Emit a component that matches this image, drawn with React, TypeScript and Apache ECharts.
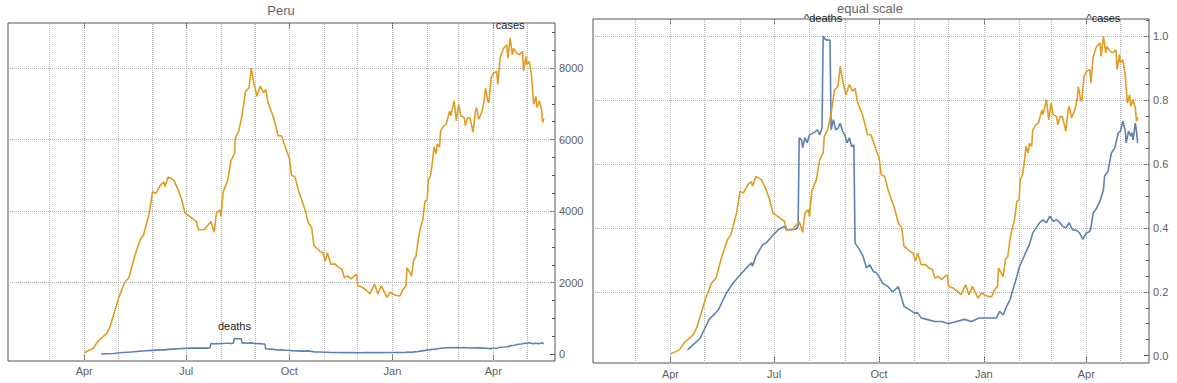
import React, { useEffect, useRef } from 'react';
import * as echarts from 'echarts';

// ---- data (days counted from 2020-04-01) ----
const caseDay = [0, 8, 12, 20, 23, 27, 31, 36, 40, 45, 50, 53, 58, 61, 64, 68, 71, 72, 75, 80, 84, 87, 90, 96, 100, 102, 107, 113, 116, 118, 121, 122, 124, 128, 131, 134, 135, 138, 141, 144, 147, 149, 151, 154, 157, 160, 162, 164, 169, 173, 176, 181, 183, 185, 188, 191, 194, 197, 200, 203, 205, 207, 210, 213, 215, 217, 220, 224, 227, 230, 232, 235, 238, 241, 243, 244, 248, 252, 255, 259, 262, 265, 270, 273, 276, 279, 282, 284, 287, 288, 292, 294, 296, 298, 300, 302, 304, 306, 307, 309, 311, 312, 314, 315, 317, 318, 321, 323, 326, 327, 330, 332, 334, 336, 339, 340, 342, 344, 347, 349, 350, 352, 355, 357, 358, 360, 361, 363, 365, 368, 369, 371, 374, 377, 378, 380, 382, 383, 386, 388, 391, 392, 394, 395, 397, 399, 400, 401, 403, 404, 406, 408, 409, 410];
const cases = [44, 168, 354, 583, 769, 1185, 1591, 2007, 2148, 2740, 3209, 3342, 3943, 4544, 4500, 4729, 4818, 4685, 4959, 4862, 4588, 4314, 3943, 3810, 3713, 3483, 3483, 3713, 3412, 3943, 4040, 3854, 4544, 4862, 5419, 5605, 6064, 6250, 6710, 7355, 7443, 8000, 7629, 7213, 7496, 7311, 7399, 7028, 6612, 6108, 6108, 5649, 5480, 5003, 4959, 4588, 4314, 4040, 3669, 3527, 3023, 2979, 2882, 2838, 2608, 2838, 2519, 2519, 2422, 2378, 2148, 2192, 2104, 2192, 2237, 1918, 1874, 1777, 1688, 1962, 1688, 1918, 1591, 1733, 1680, 1635, 1635, 1800, 1918, 2422, 2192, 2652, 2740, 3209, 3527, 3757, 4270, 4314, 4862, 5003, 5463, 5790, 5605, 5879, 5790, 6250, 6391, 6436, 6798, 6665, 7081, 6524, 6984, 6665, 6612, 6391, 6612, 6612, 6206, 6798, 6895, 6568, 6798, 7125, 7443, 7081, 7028, 7726, 7859, 7912, 7541, 8274, 8548, 8646, 8274, 8840, 8371, 8548, 8416, 8371, 8460, 7912, 8327, 8097, 8186, 7815, 7399, 6984, 7213, 6895, 7081, 6851, 6480, 6586];

const deathDay = [15, 26, 34, 42, 49, 55, 61, 68, 71, 72, 75, 81, 84, 90, 95, 100, 102, 110, 112, 113, 115, 116, 118, 120, 122, 126, 129, 131, 133, 134, 136, 140, 141, 143, 145, 147, 149, 151, 153, 155, 157, 159, 161, 162, 166, 169, 172, 175, 178, 181, 184, 186, 191, 195, 200, 202, 205, 210, 214, 217, 220, 225, 232, 238, 244, 251, 258, 264, 271, 277, 283, 286, 289, 292, 295, 298, 300, 304, 306, 309, 312, 315, 318, 321, 324, 327, 330, 333, 336, 339, 342, 344, 347, 350, 353, 356, 359, 362, 365, 368, 369, 371, 374, 377, 380, 381, 384, 387, 390, 393, 395, 397, 399, 400, 402, 404, 405, 406, 408, 409, 410];
const deaths = [8, 24, 50, 63, 86, 100, 111, 123, 128, 123, 137, 153, 155, 166, 174, 178, 173, 174, 178, 300, 297, 286, 300, 293, 304, 307, 311, 304, 313, 440, 435, 434, 311, 325, 311, 313, 320, 309, 304, 293, 300, 288, 290, 155, 146, 137, 121, 125, 116, 114, 106, 100, 95, 88, 95, 84, 68, 63, 59, 59, 52, 50, 47, 47, 44, 47, 50, 47, 52, 52, 52, 52, 61, 56, 68, 77, 88, 109, 121, 132, 143, 153, 169, 176, 183, 187, 183, 192, 185, 187, 183, 178, 176, 183, 173, 173, 169, 160, 169, 171, 176, 196, 203, 213, 228, 247, 254, 279, 286, 307, 309, 323, 311, 293, 309, 302, 307, 297, 320, 309, 293];

// ---- axes ----
const quarterTicks = ['2020-04-01', '2020-07-01', '2020-10-01', '2021-01-01', '2021-04-01'];
const gridMonths = ['2020-03-01', '2020-04-01', '2020-05-01', '2020-06-01', '2020-07-01', '2020-08-01', '2020-09-01', '2020-10-01', '2020-11-01', '2020-12-01', '2021-01-01', '2021-02-01', '2021-03-01', '2021-04-01', '2021-05-01'];
const leftYLabels = [0, 2000, 4000, 6000, 8000];
const leftYMinor = [0, 500, 1000, 1500, 2000, 2500, 3000, 3500, 4000, 4500, 5000, 5500, 6000, 6500, 7000, 7500, 8000, 8500, 9000];
const rightYLabels = [0, 0.2, 0.4, 0.6, 0.8, 1.0];
const rightYMinor = [0, 0.05, 0.1, 0.15, 0.2, 0.25, 0.3, 0.35, 0.4, 0.45, 0.5, 0.55, 0.6, 0.65, 0.7, 0.75, 0.8, 0.85, 0.9, 0.95, 1.0, 1.05];
const MONTHS = ['Jan', 'Feb', 'Mar', 'Apr', 'May', 'Jun', 'Jul', 'Aug', 'Sep', 'Oct', 'Nov', 'Dec'];

const DAY0 = Date.UTC(2020, 3, 1);
const toDay = (s: string) => Math.round((Date.parse(s) - DAY0) / 86400000);
const dayLabel = (d: number) => MONTHS[new Date(DAY0 + d * 86400000).getUTCMonth()];

const FONT = "'Liberation Sans', Arial, sans-serif";
const FRAME = '#555555';
const TICK_TEXT = '#606060';
const GRID_LINE = '#b3b3b3';
const BLUE = '#5E81B5';
const ORANGE = '#E19C24';

const X_RANGE = [-68, 420];
const LEFT_Y = [-187, 9259];
const RIGHT_Y = [-0.0228, 1.0532];

function buildOption() {
  const qDays = quarterTicks.map(toDay);
  const gDays = gridMonths.map(toDay);
  const caseMax = Math.max(...cases);
  const deathMax = Math.max(...deaths);
  const casePeakDay = caseDay[cases.indexOf(caseMax)];
  const deathPeakDay = deathDay[deaths.indexOf(deathMax)];

  const casePairs = caseDay.map((d, i) => [d, cases[i]]);
  const deathPairs = deathDay.map((d, i) => [d, deaths[i]]);
  const casePairsN = caseDay.map((d, i) => [d, cases[i] / caseMax]);
  const deathPairsN = deathDay.map((d, i) => [d, deaths[i] / deathMax]);

  const xAxisFor = (gridIndex: number, position: 'top' | 'bottom', margin: number) => ({
    type: 'value',
    gridIndex,
    position,
    min: X_RANGE[0],
    max: X_RANGE[1],
    axisLine: { show: false, onZero: false },
    axisTick: { show: true, inside: true, length: 6, customValues: qDays, lineStyle: { color: FRAME, width: 1 } },
    axisLabel: {
      show: position === 'bottom',
      customValues: qDays,
      formatter: (v: number) => dayLabel(v),
      margin,
      color: TICK_TEXT,
      fontSize: 11,
      fontFamily: FONT,
    },
    splitLine: { show: false },
  });

  const yAxisFor = (gridIndex: number, range: number[], ticks: number[], length: number, labels: number[] | null, fmt: (v: number) => string) => ({
    type: 'value',
    gridIndex,
    position: 'right',
    min: range[0],
    max: range[1],
    axisLine: { show: false, onZero: false },
    axisTick: { show: true, inside: true, length, customValues: ticks, lineStyle: { color: FRAME, width: 1 } },
    axisLabel: labels
      ? { show: true, customValues: labels, formatter: fmt, margin: 4, color: TICK_TEXT, fontSize: 11, fontFamily: FONT }
      : { show: false },
    splitLine: { show: false },
  });

  const gridMark = (hValues: number[]) => ({
    z: 1,
    silent: true,
    symbol: ['none', 'none'],
    label: { show: false },
    lineStyle: { type: 'dotted', color: GRID_LINE, width: 1 },
    emphasis: { disabled: true },
    data: [...gDays.map((d) => ({ xAxis: d })), ...hValues.map((v) => ({ yAxis: v }))],
  });

  const peakLabel = (text: string, x: number, y: number, distance: number) => ({
    silent: true,
    symbol: 'circle',
    symbolSize: 1,
    itemStyle: { color: 'rgba(0,0,0,0)' },
    label: { show: true, position: 'top', distance, formatter: text, color: '#1a1a1a', fontSize: 11, fontFamily: FONT },
    data: [{ coord: [x, y] }],
  });

  const lineBase = { type: 'line', symbol: 'none', showSymbol: false, smooth: false, silent: true };

  return {
    animation: false,
    grid: [
      { left: 8, top: 23, width: 547, height: 338, show: true, borderColor: FRAME, borderWidth: 1, backgroundColor: 'transparent', containLabel: false },
      { left: 593, top: 19, width: 556, height: 344, show: true, borderColor: FRAME, borderWidth: 1, backgroundColor: 'transparent', containLabel: false },
    ],
    xAxis: [xAxisFor(0, 'bottom', 4), xAxisFor(0, 'top', 4), xAxisFor(1, 'bottom', 5), xAxisFor(1, 'top', 5)],
    yAxis: [
      yAxisFor(0, LEFT_Y, leftYMinor, 3, leftYLabels, (v) => String(v)),
      yAxisFor(0, LEFT_Y, leftYLabels, 5, null, (v) => String(v)),
      yAxisFor(1, RIGHT_Y, rightYMinor, 3, rightYLabels, (v) => v.toFixed(1)),
      yAxisFor(1, RIGHT_Y, rightYLabels, 5, null, (v) => v.toFixed(1)),
    ],
    graphic: [
      { type: 'text', x: 281, y: 10, silent: true, style: { text: 'Peru', fill: '#666666', font: `13px ${FONT}`, align: 'center', verticalAlign: 'middle' } },
      { type: 'text', x: 870, y: 8, silent: true, style: { text: 'equal scale', fill: '#666666', font: `13px ${FONT}`, align: 'center', verticalAlign: 'middle' } },
    ],
    series: [
      {
        ...lineBase,
        name: 'deaths',
        xAxisIndex: 0,
        yAxisIndex: 0,
        z: 2,
        data: deathPairs,
        lineStyle: { color: BLUE, width: 1.6 },
        itemStyle: { color: BLUE },
        markLine: gridMark([2000, 4000, 6000, 8000]),
        markPoint: peakLabel('deaths', deathPeakDay, deathMax, 7),
      },
      {
        ...lineBase,
        name: 'cases',
        xAxisIndex: 0,
        yAxisIndex: 0,
        z: 3,
        data: casePairs,
        lineStyle: { color: ORANGE, width: 1.6 },
        itemStyle: { color: ORANGE },
        markPoint: peakLabel('cases', casePeakDay, caseMax, 7),
      },
      {
        ...lineBase,
        name: 'deaths (scaled)',
        xAxisIndex: 2,
        yAxisIndex: 2,
        z: 2,
        data: deathPairsN,
        lineStyle: { color: BLUE, width: 1.6 },
        itemStyle: { color: BLUE },
        markLine: gridMark([0.2, 0.4, 0.6, 0.8, 1.0]),
        markPoint: peakLabel('^deaths', deathPeakDay, 1, 12),
      },
      {
        ...lineBase,
        name: 'cases (scaled)',
        xAxisIndex: 2,
        yAxisIndex: 2,
        z: 3,
        data: casePairsN,
        lineStyle: { color: ORANGE, width: 1.6 },
        itemStyle: { color: ORANGE },
        markPoint: peakLabel('^cases', casePeakDay, 1, 12),
      },
    ],
  };
}

export default function App() {
  const ref = useRef<HTMLDivElement>(null);
  useEffect(() => {
    if (!ref.current) return;
    const chart = echarts.init(ref.current, null, { renderer: 'svg' });
    chart.setOption(buildOption() as any);
    return () => chart.dispose();
  }, []);
  return <div ref={ref} style={{ position: 'fixed', left: 0, top: 0, width: 1177, height: 383, background: '#fff' }} />;
}
